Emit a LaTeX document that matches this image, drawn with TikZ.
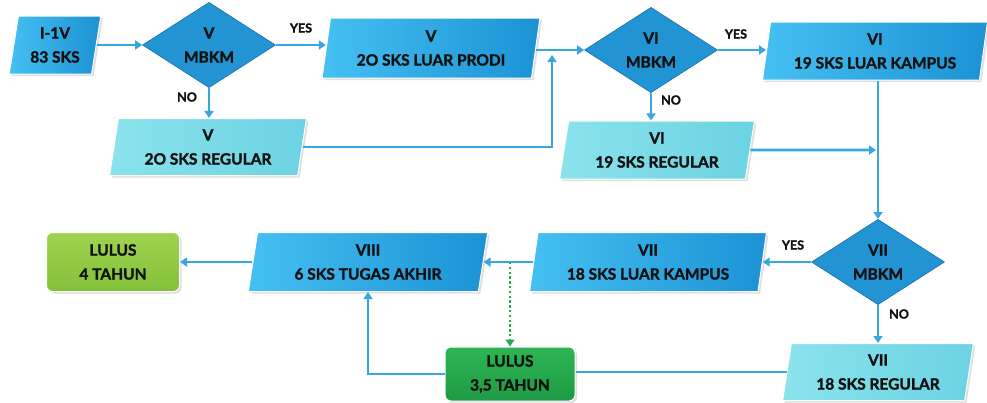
\documentclass[tikz,border=0pt]{standalone}
\usepackage{fontspec}
\setmainfont{Lato}[BoldFeatures={FakeBold=1.6}]
\usetikzlibrary{shapes.geometric,arrows.meta,shadows}
\definecolor{arrowblue}{HTML}{3AA6DF}
\definecolor{boxL}{HTML}{45C0F2}
\definecolor{boxR}{HTML}{1C92D4}
\definecolor{regL}{HTML}{8AE3EC}
\definecolor{regR}{HTML}{6CD2E2}
\definecolor{diam}{HTML}{2293D3}
\definecolor{diamborder}{HTML}{1A6FA8}
\definecolor{greenAt}{HTML}{9FD24F}
\definecolor{greenAb}{HTML}{84C03A}
\definecolor{greenBt}{HTML}{2DB553}
\definecolor{greenBb}{HTML}{1E9B45}
\definecolor{dotgreen}{HTML}{27AD55}
\definecolor{txt}{HTML}{111111}
\begin{document}
\begin{tikzpicture}[x=1pt,y=-1pt,
  base/.style={font=\bfseries\fontsize{15.5}{24}\selectfont, align=center, text=txt, inner sep=0pt},
  para/.style={base, trapezium, trapezium left angle=80, trapezium right angle=100, trapezium stretches=true, draw=white, line width=1pt, drop shadow={shadow xshift=2pt, shadow yshift=-2pt, opacity=0.25}},
  mainbox/.style={para, left color=boxL, right color=boxR},
  regbox/.style={para, left color=regL, right color=regR},
  dec/.style={base, diamond, fill=diam, draw=diamborder, line width=0.6pt, minimum width=133pt, minimum height=70pt},
  endbox/.style={base, rectangle, rounded corners=6pt, draw=white, line width=1pt, drop shadow={shadow xshift=2pt, shadow yshift=-2pt, opacity=0.25}},
  conn/.style={draw=arrowblue, line width=2.6pt, -{Triangle[length=7pt,width=9pt]}},
  wire/.style={draw=arrowblue, line width=2.6pt},
  dotconn/.style={draw=dotgreen, line width=2.4pt, dash pattern=on 2.4pt off 2.4pt, -{Triangle[length=7pt,width=9pt]}},
  lab/.style={font=\bfseries\fontsize{12.5}{14}\selectfont, text=txt}
]
\useasboundingbox (0,0) rectangle (987,402);
% nodes
\node[mainbox, minimum width=92pt, minimum height=58pt] (n1) at (55,45) {I-1V\\83 SKS};
\node[dec] (d1) at (209,45) {V\\MBKM};
\node[mainbox, minimum width=218pt, minimum height=60pt] (b2) at (431,48) {V\\2O SKS LUAR PRODI};
\node[regbox, minimum width=197pt, minimum height=57pt] (r5) at (208,147) {V\\2O SKS REGULAR};
\node[dec] (d2) at (651,50) {VI\\MBKM};
\node[mainbox, minimum width=225pt, minimum height=58pt] (b6) at (875,51) {VI\\19 SKS LUAR KAMPUS};
\node[regbox, minimum width=195pt, minimum height=58pt] (r6) at (657,150) {VI\\19 SKS REGULAR};
\node[dec] (d3) at (878,262) {VII\\MBKM};
\node[mainbox, minimum width=237pt, minimum height=59pt] (b7) at (648,262) {VII\\18 SKS LUAR KAMPUS};
\node[regbox, minimum width=191pt, minimum height=57pt] (r7) at (878,372) {VII\\18 SKS REGULAR};
\node[endbox, top color=greenBt, bottom color=greenBb, minimum width=130pt, minimum height=54pt] (l35) at (510,374) {LULUS\\3,5 TAHUN};
\node[mainbox, minimum width=240pt, minimum height=59pt] (b8) at (368,262) {VIII\\6 SKS TUGAS AKHIR};
\node[endbox, top color=greenAt, bottom color=greenAb, minimum width=133pt, minimum height=59pt] (l4) at (113,262) {LULUS\\4 TAHUN};
% connectors
\draw[conn] (n1.east |- d1.west) -- (d1.west);
\draw[conn] (d1.east) -- (d1.east -| b2.west);
\node[lab] at (301,28) {YES};
\draw[conn] (d1.south) -- (d1.south |- r5.north);
\node[lab] at (187,97) {NO};
\coordinate (j1) at (552,55);
\draw[conn] (r5.east) -| (j1);
\draw[conn] (b2.east |- d2.west) -- (d2.west);
\draw[conn] (d2.east) -- (d2.east -| b6.west);
\node[lab] at (736,34) {YES};
\draw[conn] (d2.south) -- (d2.south |- r6.north);
\node[lab] at (671,100) {NO};
\draw[conn] (d3.north |- b6.south) -- (d3.north);
\coordinate (j2) at (876,150);
\draw[conn] (r6.east) -- (j2);
\draw[conn] (d3.west) -- (d3.west -| b7.east);
\node[lab] at (793,245) {YES};
\draw[conn] (d3.south) -- (d3.south |- r7.north);
\node[lab] at (899,314) {NO};
\draw[wire] (r7.west) -- (r7.west -| l35.east);
\draw[conn] (l35.west) -| (b8.south);
\draw[conn] (b7.west) -- (b7.west -| b8.east);
\coordinate (j3) at (510,262);
\draw[dotconn] (j3) -- (l35.north);
\draw[conn] (b8.west) -- (b8.west -| l4.east);
\end{tikzpicture}
\end{document}
